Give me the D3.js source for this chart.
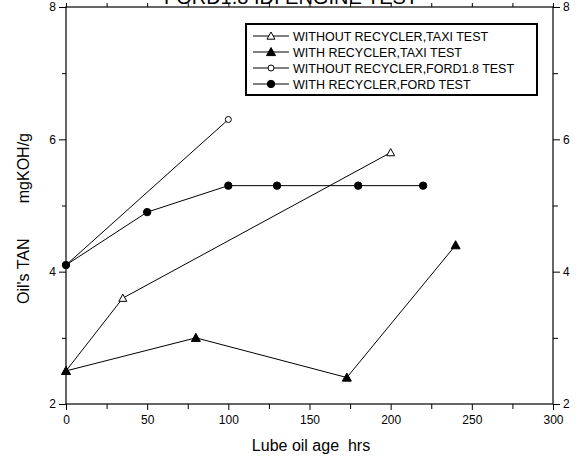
<!DOCTYPE html>
<html lang="en">
<head>
<meta charset="UTF-8">
<script src="https://cdnjs.cloudflare.com/ajax/libs/d3/7.8.5/d3.min.js"></script>
<style>
  html, body { margin: 0; padding: 0; background: #fff; }
  svg { display: block; font-family: "Liberation Sans", Arial, sans-serif; }
</style>
</head>
<body>
<div id="chart"></div>
<script>
// data
var taxiNoRecHours = [0, 35, 200];
var taxiNoRecTan   = [2.5, 3.6, 5.8];
var taxiRecHours   = [0, 80, 173, 240];
var taxiRecTan     = [2.5, 3.0, 2.4, 4.4];
var fordNoRecHours = [0, 100];
var fordNoRecTan   = [4.1, 6.3];
var fordRecHours   = [0, 50, 100, 130, 180, 220];
var fordRecTan     = [4.1, 4.9, 5.3, 5.3, 5.3, 5.3];

var seriesNames = ["WITHOUT RECYCLER,TAXI TEST", "WITH RECYCLER,TAXI TEST",
                   "WITHOUT RECYCLER,FORD1.8 TEST", "WITH RECYCLER,FORD TEST"];
var xTicks = [0, 50, 100, 150, 200, 250, 300];
var yTicks = [2, 4, 6, 8];

var series = [
  {name: seriesNames[0], x: taxiNoRecHours, y: taxiNoRecTan, shape: "tri", filled: false},
  {name: seriesNames[1], x: taxiRecHours, y: taxiRecTan, shape: "tri", filled: true},
  {name: seriesNames[2], x: fordNoRecHours, y: fordNoRecTan, shape: "circ", filled: false},
  {name: seriesNames[3], x: fordRecHours, y: fordRecTan, shape: "circ", filled: true}
];

var W = 584, H = 457;
var margin = {top: 7, right: 31, bottom: 53, left: 66};
var width = W - margin.left - margin.right;
var height = H - margin.top - margin.bottom;

var svg = d3.select("#chart").append("svg")
  .attr("width", W).attr("height", H);

var g = svg.append("g")
  .attr("transform", "translate(" + margin.left + "," + margin.top + ")");

var x = d3.scaleLinear().domain([0, 300]).range([0, width]);
var y = d3.scaleLinear().domain([2, 8]).range([height, 0]);

// title, partly cut off at the top like the original
svg.append("text")
  .attr("x", 291).attr("y", 4)
  .attr("text-anchor", "middle")
  .style("font-size", "20px")
  .text("FORD1.8 IDI ENGINE TEST");

function styleAxis(sel) {
  sel.select(".domain").remove();
  sel.selectAll("line").attr("stroke", "#000");
  sel.selectAll("text").style("font-size", "12px").attr("fill", "#000");
}

var fmt = d3.format("d");

// minor ticks first
var minorX = d3.range(0, 301, 25).filter(function(v) { return v % 50 != 0; });
var minorY = [3, 5, 7];

g.append("g").attr("transform", "translate(0," + height + ")")
  .call(d3.axisBottom(x).tickValues(minorX).tickSize(5).tickFormat(""))
  .call(styleAxis);
g.append("g")
  .call(d3.axisTop(x).tickValues(d3.range(0, 301, 25)).tickSize(4).tickFormat(""))
  .call(styleAxis);
g.append("g")
  .call(d3.axisLeft(y).tickValues(minorY).tickSize(4).tickFormat(""))
  .call(styleAxis);
g.append("g").attr("transform", "translate(" + width + ",0)")
  .call(d3.axisRight(y).tickValues(minorY).tickSize(5).tickFormat(""))
  .call(styleAxis);

// major ticks
g.append("g").attr("transform", "translate(0," + height + ")")
  .call(d3.axisBottom(x).tickValues(xTicks).tickSize(6).tickPadding(5).tickFormat(fmt))
  .call(styleAxis);
g.append("g")
  .call(d3.axisLeft(y).tickValues(yTicks).tickSize(7).tickPadding(3).tickFormat(fmt))
  .call(styleAxis);
g.append("g").attr("transform", "translate(" + width + ",0)")
  .call(d3.axisRight(y).tickValues(yTicks).tickSize(7).tickPadding(3).tickFormat(fmt))
  .call(styleAxis);

// frame
g.append("rect")
  .attr("x", 0).attr("y", 0).attr("width", width).attr("height", height)
  .attr("fill", "none").attr("stroke", "#000").attr("stroke-width", 1.2);

// axis titles
svg.append("text")
  .attr("x", 311).attr("y", 451)
  .attr("text-anchor", "middle")
  .style("font-size", "16px")
  .style("white-space", "pre")
  .text("Lube oil age  hrs");

svg.append("text")
  .attr("transform", "translate(29,304) rotate(-90)")
  .attr("text-anchor", "start")
  .style("font-size", "16px")
  .text("Oil's TAN");
svg.append("text")
  .attr("transform", "translate(29,133) rotate(-90)")
  .attr("text-anchor", "end")
  .style("font-size", "16px")
  .text("mgKOH/g");

function drawMarker(sel, s) {
  if (s.shape == "tri") {
    var sz = s.filled ? 9 : 8;
    sel.append("path")
      .attr("d", "M0," + (-sz * 0.5) + "L" + (sz / 2) + "," + (sz * 0.4) + "L" + (-sz / 2) + "," + (sz * 0.4) + "Z")
      .attr("fill", s.filled ? "#000" : "#fff")
      .attr("stroke", "#000").attr("stroke-width", 1);
  } else {
    sel.append("circle")
      .attr("r", s.filled ? 3.7 : 3)
      .attr("fill", s.filled ? "#000" : "#fff")
      .attr("stroke", "#000").attr("stroke-width", 1);
  }
}

var line = d3.line().x(function(d) { return x(d[0]); }).y(function(d) { return y(d[1]); });

series.forEach(function(s) {
  var pts = s.x.map(function(v, i) { return [v, s.y[i]]; });
  g.append("path").datum(pts)
    .attr("d", line)
    .attr("fill", "none").attr("stroke", "#000").attr("stroke-width", 1);
  pts.forEach(function(p) {
    var m = g.append("g").attr("transform", "translate(" + x(p[0]) + "," + y(p[1]) + ")");
    drawMarker(m, s);
  });
});

// legend
var leg = svg.append("g");
leg.append("rect")
  .attr("x", 246).attr("y", 24).attr("width", 291).attr("height", 71)
  .attr("fill", "#fff").attr("stroke", "#000").attr("stroke-width", 2);

series.forEach(function(s, i) {
  var ly = 36 + i * 16;
  leg.append("line")
    .attr("x1", 253).attr("x2", 289).attr("y1", ly).attr("y2", ly)
    .attr("stroke", "#000").attr("stroke-width", 1);
  var m = leg.append("g").attr("transform", "translate(271," + ly + ")");
  drawMarker(m, s);
  leg.append("text")
    .attr("x", 293).attr("y", ly + 4.5)
    .style("font-size", "12.5px")
    .text(s.name);
});
</script>
</body>
</html>
